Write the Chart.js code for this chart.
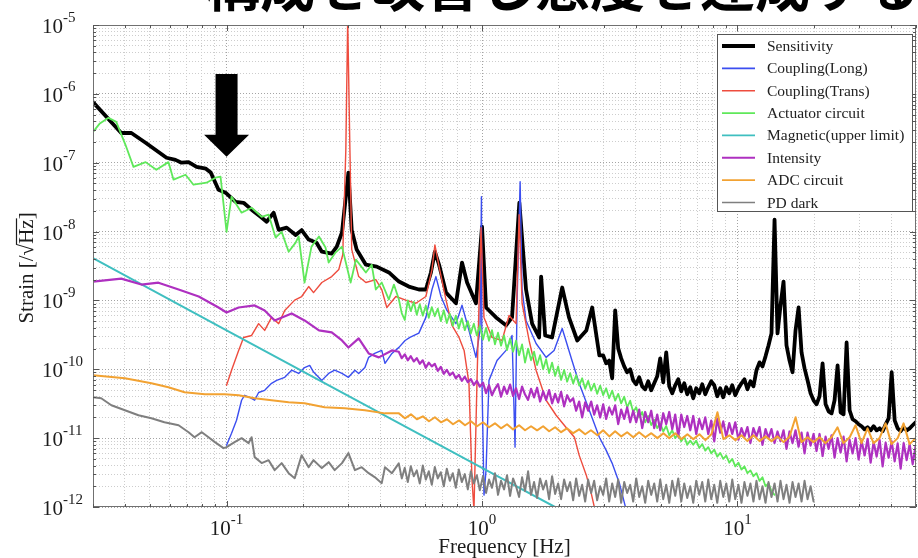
<!DOCTYPE html>
<html><head><meta charset="utf-8">
<script src="https://cdn.jsdelivr.net/npm/chart.js@4.4.1/dist/chart.umd.min.js"></script>
<style>html,body{margin:0;padding:0;background:#fff;}canvas{display:block;}</style>
</head><body>
<canvas id="c" width="918" height="558"></canvas>
<script>
// ---------- data (frequency [Hz], strain [1/sqrt(Hz)]) ----------
const sensLowFreq = [0.03,0.0387,0.0424,0.0482,0.0582,0.0631,0.0666,0.071,0.0763,0.083,0.0867,0.093,0.0991,0.1085,0.1166,0.1253,0.1359,0.1435,0.1529,0.16,0.1719,0.1864,0.1968,0.2096,0.225,0.236,0.258,0.27,0.283,0.3,0.309,0.323,0.351,0.387,0.432,0.473,0.517,0.566,0.603,0.631,0.654,0.679,0.723,0.791,0.835,0.874,0.947,1.0,1.037,1.135,1.242,1.311,1.4,1.487,1.571,1.673,1.704,1.767,1.881,2.06,2.19,2.36,2.56,2.7,2.88];
const sensLowVal = [7.6e-7,2.7e-7,2.7e-7,1.95e-7,1.18e-7,1.1e-7,1.0e-7,1.02e-7,8.7e-8,8.2e-8,7.2e-8,4.05e-8,3.67e-8,2.7e-8,2.62e-8,2.08e-8,1.64e-8,1.39e-8,1.88e-8,1.06e-8,1.14e-8,8.9e-9,1.05e-8,7.65e-9,6.9e-9,5.1e-9,4.8e-9,6.05e-9,9.7e-9,7.2e-8,1.05e-8,5.5e-9,3.3e-9,3.1e-9,2.55e-9,1.88e-9,1.59e-9,1.44e-9,1.44e-9,2.55e-9,5.1e-9,3.3e-9,1.3e-9,9.1e-10,3.55e-9,1.82e-9,9.1e-10,1.18e-8,7.9e-10,5.67e-10,4.34e-10,5.67e-10,2.62e-8,1.44e-9,4.6e-10,2.9e-10,2.22e-9,3.1e-10,2.9e-10,1.54e-9,5.67e-10,2.62e-10,3.67e-10,7.9e-10,1.59e-10];
// sensitivity above 2.9 Hz, sampled on fineFreq from index 68 on
const sensFineVal = [1.59e-10,1.22e-10,1.34e-10,7.4e-11,7.16e-10,2.01e-10,1.44e-10,1.1e-10,9.05e-11,1.0e-10,
6.92e-11,6.06e-11,7.65e-11,5.66e-11,5.12e-11,6.69e-11,4.95e-11,6.26e-11,7.91e-11,1.44e-10,
6.47e-11,1.76e-10,5.66e-11,4.48e-11,5.86e-11,7.16e-11,4.79e-11,6.26e-11,4.34e-11,5.48e-11,
3.79e-11,5.3e-11,4.48e-11,6.06e-11,4.34e-11,5.48e-11,6.69e-11,5.86e-11,4.06e-11,5.3e-11,
3.92e-11,5.48e-11,4.48e-11,5.86e-11,4.19e-11,5.3e-11,6.26e-11,7.16e-11,5.12e-11,6.69e-11,
5.66e-11,9.67e-11,1.26e-10,1.1e-10,1.54e-10,2.22e-10,3.32e-10,1.49e-8,3.32e-10,8.46e-10,
1.88e-9,2.22e-10,1.34e-10,9.05e-11,3.67e-10,7.91e-10,1.76e-10,1.03e-10,6.92e-11,4.48e-11,
3.55e-11,3.1e-11,4.06e-11,1.22e-10,3.1e-11,2.45e-11,2.29e-11,3.55e-11,1.14e-10,2.37e-11,
2.22e-11,2.45e-10,2.54e-11,1.88e-11,1.76e-11,1.59e-11,1.49e-11,1.34e-11,1.44e-11,1.3e-11,
1.49e-11,1.3e-11,1.39e-11,1.26e-11,1.59e-11,1.94e-11,9.05e-11,1.81e-11,1.39e-11,1.26e-11,
1.44e-11,1.3e-11,1.39e-11,1.54e-11,1.7e-11];

const longFreq = [0.1,0.1046,0.1094,0.1145,0.1176,0.1231,0.1288,0.1335,0.141,0.15,0.1571,0.1689,0.1798,0.1915,0.202,0.2116,0.219,0.236,0.251,0.265,0.283,0.3,0.318,0.329,0.348,0.36,0.38,0.405,0.417,0.444,0.473,0.5,0.522,0.566,0.603,0.637,0.66,0.691,0.729,0.791,0.835,0.889,0.947,0.982,0.995,1.0,1.018,1.037,1.065,1.145,1.242,1.311,1.347,1.372,1.41,1.435,1.487,1.628,1.782,1.915,2.06,2.13,2.25,2.4,2.63,2.88,3.06,3.23,3.45,3.67];
const longVal = [7.9e-12,1.18e-11,1.82e-11,3.55e-11,4.19e-11,3.92e-11,3.55e-11,4.6e-11,4.95e-11,6.26e-11,6.9e-11,7.65e-11,9.7e-11,8.7e-11,1.06e-10,1.14e-10,9.1e-11,6.9e-11,8.7e-11,9.7e-11,8.7e-11,7.65e-11,9.7e-11,8.7e-11,1.06e-10,1.49e-10,1.7e-10,1.88e-10,1.22e-10,1.7e-10,2.08e-10,2.62e-10,2.9e-10,3.35e-10,5.67e-10,1.44e-9,2.22e-9,1.14e-9,7.16e-10,4.6e-10,8.5e-10,3.67e-10,1.49e-10,3.67e-10,3.21e-8,6.26e-11,1.49e-12,3.43e-12,6.9e-11,1.34e-10,1.88e-10,3.1e-10,7.4e-12,1e-9,5.3e-8,1.44e-9,5.12e-10,2.37e-10,1.49e-10,1.88e-10,3.92e-10,2.62e-10,1.34e-10,6.26e-11,2.55e-11,1.03e-11,6.69e-12,4.34e-12,2.22e-12,9e-13];

const transFreq = [0.1,0.1046,0.1115,0.1166,0.1253,0.1335,0.141,0.15,0.16,0.1689,0.1848,0.1968,0.2096,0.219,0.236,0.258,0.275,0.285,0.293,0.298,0.304,0.309,0.329,0.351,0.384,0.405,0.424,0.46,0.503,0.551,0.603,0.637,0.654,0.679,0.723,0.763,0.813,0.851,0.889,0.914,0.93,0.956,0.991,1.018,1.094,1.198,1.276,1.359,1.397,1.435,1.529,1.628,1.782,1.95,2.13,2.3,2.4,2.56,2.67,2.77];
const transVal = [5.86e-11,9.7e-11,1.88e-10,2.9e-10,3.1e-10,4.6e-10,3.67e-10,5.67e-10,4.6e-10,7.16e-10,1.01e-9,1.14e-9,1.59e-9,1.3e-9,1.82e-9,2.22e-9,2.81e-9,4.6e-9,1.54e-7,1.2e-5,1.54e-7,5.5e-9,2.22e-9,1.82e-9,2.01e-9,1.44e-9,7.9e-10,1.14e-9,1.01e-9,9.1e-10,1.14e-9,2.81e-9,6.4e-9,3.1e-9,1.01e-9,4.34e-10,2.9e-10,1.88e-10,6.26e-11,2.45e-12,9e-13,6.9e-11,1.14e-8,5.67e-10,2.9e-10,2.62e-10,6.05e-10,4.6e-10,1.76e-8,9.1e-10,2.62e-10,9.7e-11,3.55e-11,2.15e-11,1.44e-11,1.03e-11,5.67e-12,2.9e-12,1.64e-12,9e-13];

const magFreq = [0.03,0.1,1.0,1.93];
const magVal = [4.1e-9,3.67e-10,3.7e-12,1.0e-12];

// fine frequency grid of the dense-noise region (0.47 - 50 Hz)
const fineFreq = [0.4722,0.4852,0.4985,0.5122,0.5262,0.5407,0.5555,0.5707,0.5864,0.6025,0.619,0.636,0.6534,0.6713,0.6897,0.7087,0.7281,0.7481,0.7686,0.7897,0.8113,0.8336,0.8564,0.8799,0.904,0.9288,0.9543,0.9804,
1.009,1.037,1.065,1.094,1.124,1.155,1.187,1.22,1.253,1.288,1.323,1.359,1.397,1.435,1.474,1.515,1.556,1.599,1.643,1.688,1.735,1.782,1.831,1.881,1.933,1.986,2.04,2.096,2.154,2.213,2.274,2.336,2.4,2.466,2.534,2.603,2.675,2.748,2.823,2.901,2.981,3.062,3.146,3.233,3.322,3.413,3.506,3.603,3.701,3.803,3.907,4.015,4.125,4.238,4.354,4.473,4.596,4.722,4.852,4.985,5.122,5.262,5.407,5.555,5.707,5.864,6.025,6.19,6.36,6.534,6.713,6.897,7.087,7.281,7.481,7.686,7.897,8.113,8.336,8.564,8.799,9.04,9.288,9.543,9.804,
10.09,10.37,10.65,10.94,11.24,11.55,11.87,12.2,12.53,12.88,13.23,13.59,13.97,14.35,14.74,15.15,15.56,15.99,16.43,16.88,17.35,17.82,18.31,18.81,19.33,19.86,20.4,20.96,21.54,22.13,22.74,23.36,24.0,24.66,25.34,26.03,26.75,27.48,28.23,29.01,29.81,30.62,31.46,32.33,33.22,34.13,35.06,36.03,37.01,38.03,39.07,40.15,41.25,42.38,43.54,44.73,45.96,47.22,48.52,49.85];
// coarser grid used by the ADC trace
const bandFreq = [0.473,0.499,0.527,0.556,0.587,0.62,0.654,0.691,0.729,0.77,0.813,0.858,0.905,0.956,1.009,1.065,1.124,1.187,1.253,1.323,1.397,1.474,1.556,1.643,1.735,1.831,1.933,2.04,2.15,2.275,2.4,2.535,2.67,2.83,2.98,3.15,3.32,3.51,3.7,3.91,4.12,4.36,4.6,4.86,5.13,5.41,5.71,6.03,6.37,6.72,7.1,7.49,7.91,8.35,8.81,9.3,9.82,10.37,10.94,11.55,12.2,12.88,13.6,14.35,15.15,16.0,16.89,17.8,18.81,19.86,20.96,22.1,23.35,24.65,26.0,27.5,29.0,30.6,32.3,34.1,36.0,38.0,40.1,42.4,44.7,47.2,49.8];

const actLowFreq = [0.03,0.0318,0.0345,0.037,0.0402,0.0432,0.0482,0.0531,0.0592,0.062,0.0691,0.0742,0.0835,0.0905,0.0947,0.1,0.1046,0.1145,0.1253,0.1372,0.1461,0.1556,0.1643,0.175,0.1864,0.1915,0.202,0.215,0.23,0.244,0.251,0.267,0.283,0.306,0.321,0.351,0.37,0.384,0.405,0.432,0.452];
const actLowVal = [2.81e-7,3.67e-7,4.48e-7,3.92e-7,1.82e-7,8.7e-8,1.02e-7,7.9e-8,1.02e-7,5.67e-8,6.69e-8,4.79e-8,5.12e-8,6.05e-8,6.26e-8,9.9e-9,3.21e-8,1.88e-8,2.22e-8,1.64e-8,1.76e-8,8.2e-9,9.9e-9,5.1e-9,6.9e-9,8.5e-9,1.82e-9,6.05e-9,8.5e-9,5.86e-9,3.55e-9,4.95e-9,6.05e-9,1.82e-9,3.92e-9,2.55e-9,3.3e-9,1.44e-9,1.82e-9,1.03e-9,1.7e-9];
const actFineVal = [1.05e-9,6.5e-10,5.2e-10,1.0e-9,7.0e-10,9.5e-10,6.2e-10,8.8e-10,6.0e-10,8.4e-10,5.6e-10,8.0e-10,5.9e-10,7.6e-10,5.0e-10,7.2e-10,4.7e-10,6.4e-10,4.3e-10,6.0e-10,3.9e-10,5.5e-10,3.7e-10,5.0e-10,3.3e-10,4.6e-10,3.1e-10,4.3e-10,
2.7e-10,4.0e-10,2.6e-10,3.7e-10,2.3e-10,3.4e-10,2.2e-10,3.1e-10,1.9e-10,2.8e-10,
1.8e-10,2.6e-10,1.6e-10,2.3e-10,1.25e-10,2.0e-10,1.35e-10,1.8e-10,1.15e-10,1.6e-10,
1.0e-10,1.4e-10,8.8e-11,1.25e-10,8.0e-11,1.1e-10,7.0e-11,9.8e-11,6.6e-11,8.8e-11,
6.2e-11,8.2e-11,5.8e-11,7.4e-11,5.2e-11,6.8e-11,4.9e-11,6.2e-11,4.4e-11,5.8e-11,
4.2e-11,5.3e-11,3.8e-11,4.9e-11,3.5e-11,4.4e-11,3.2e-11,4.0e-11,2.8e-11,3.5e-11,
2.4e-11,2.8e-11,2.0e-11,2.4e-11,1.7e-11,2.1e-11,1.55e-11,1.85e-11,1.4e-11,1.65e-11,
1.25e-11,1.5e-11,1.1e-11,1.3e-11,1.0e-11,1.15e-11,9.0e-12,1.05e-11,8.0e-12,9.2e-12,
8.0e-12,9.2e-12,7.2e-12,8.2e-12,6.6e-12,7.4e-12,6.0e-12,6.8e-12,5.4e-12,6.1e-12,
5.0e-12,5.6e-12,4.4e-12,5.0e-12,3.9e-12,4.4e-12,3.5e-12,3.9e-12,3.1e-12,3.4e-12,
2.8e-12,3.1e-12,2.4e-12,2.7e-12,2.0e-12,2.2e-12,1.7e-12,1.5e-12];

const intLowFreq = [0.03,0.0387,0.0464,0.0541,0.0649,0.0778,0.093,0.1,0.1115,0.1288,0.141,0.1543,0.1798,0.202,0.23,0.258,0.283,0.3,0.329,0.36,0.3945,0.444];
const intLowVal = [1.88e-9,2.07e-9,1.7e-9,1.81e-9,1.44e-9,1.14e-9,7.9e-10,6.69e-10,7.9e-10,8.46e-10,7.16e-10,5.12e-10,6.47e-10,5.12e-10,3.67e-10,3.43e-10,2.62e-10,2.07e-10,2.81e-10,1.7e-10,1.49e-10,1.88e-10];
const intFineVal = [1.8e-10,1.45e-10,1.65e-10,1.35e-10,1.55e-10,1.3e-10,1.45e-10,1.2e-10,1.35e-10,1.05e-10,1.25e-10,1.1e-10,1.2e-10,9.5e-11,1.08e-10,8.6e-11,9.8e-11,8.2e-11,9.0e-11,7.4e-11,8.3e-11,6.8e-11,7.8e-11,6.5e-11,7.2e-11,5.9e-11,6.8e-11,5.6e-11,
6.4e-11,4.5e-11,5.9e-11,4.2e-11,5.2e-11,6.1e-11,4.0e-11,5.6e-11,4.4e-11,6.0e-11,
4.1e-11,5.3e-11,3.7e-11,5.6e-11,4.3e-11,3.6e-11,5.2e-11,3.9e-11,5.4e-11,3.4e-11,
4.8e-11,3.6e-11,5.0e-11,3.2e-11,4.4e-11,3.3e-11,4.7e-11,2.9e-11,4.2e-11,3.4e-11,
3.8e-11,2.5e-11,3.4e-11,2.0e-11,3.3e-11,2.5e-11,3.4e-11,2.2e-11,3.0e-11,2.0e-11,
3.1e-11,1.9e-11,2.8e-11,2.2e-11,3.0e-11,1.6e-11,2.6e-11,1.9e-11,2.8e-11,1.7e-11,
2.5e-11,1.7e-11,2.6e-11,1.4e-11,2.4e-11,1.7e-11,2.5e-11,1.4e-11,2.2e-11,1.3e-11,
2.3e-11,1.6e-11,2.4e-11,1.35e-11,2.2e-11,1.05e-11,2.2e-11,1.45e-11,2.1e-11,1.3e-11,
2.1e-11,1.15e-11,1.9e-11,1.35e-11,2.0e-11,1.15e-11,1.8e-11,9.0e-12,1.9e-11,1.2e-11,
1.75e-11,1.05e-11,1.65e-11,1.15e-11,1.7e-11,9.5e-12,1.4e-11,1.05e-11,1.45e-11,8.5e-12,
1.4e-11,1.05e-11,1.45e-11,8.0e-12,1.35e-11,1.0e-11,1.35e-11,8.5e-12,1.25e-11,9.0e-12,
1.3e-11,7.0e-12,1.25e-11,8.5e-12,1.3e-11,7.5e-12,1.2e-11,6.0e-12,1.2e-11,7.8e-12,
1.15e-11,6.5e-12,1.15e-11,5.5e-12,1.05e-11,7.0e-12,1.1e-11,5.2e-12,1.0e-11,6.2e-12,
1.05e-11,4.6e-12,9.5e-12,6.0e-12,1.0e-11,4.9e-12,9.2e-12,5.6e-12,9.8e-12,4.4e-12,
8.8e-12,5.4e-12,9.4e-12,3.9e-12,8.6e-12,5.2e-12,9.0e-12,4.6e-12,8.4e-12,3.6e-12,
8.5e-12,4.8e-12,8.2e-12,4.2e-12,7.8e-12];

const adcLowFreq = [0.03,0.04,0.0508,0.0592,0.0685,0.0822,0.0982,0.1115,0.1288,0.15,0.175,0.202,0.242,0.29,0.348,0.417];
const adcLowVal = [8.2e-11,7.4e-11,6.26e-11,5.48e-11,4.63e-11,4.34e-11,4.34e-11,4.19e-11,3.79e-11,3.55e-11,3.32e-11,3.21e-11,2.81e-11,2.72e-11,2.54e-11,2.29e-11];
const adcBandVal = [2.29e-11,1.94e-11,2.22e-11,1.88e-11,2.07e-11,1.76e-11,2.01e-11,1.7e-11,1.88e-11,1.59e-11,1.81e-11,1.54e-11,1.76e-11,1.49e-11,1.7e-11,1.44e-11,1.64e-11,1.39e-11,1.59e-11,1.34e-11,1.54e-11,1.3e-11,1.49e-11,1.3e-11,1.49e-11,1.26e-11,1.44e-11,1.22e-11,1.39e-11,1.18e-11,1.34e-11,1.14e-11,1.3e-11,1.1e-11,1.3e-11,1.06e-11,1.26e-11,1.06e-11,1.22e-11,1.03e-11,1.22e-11,1.03e-11,1.18e-11,1.0e-11,1.18e-11,1.0e-11,1.18e-11,9.67e-12,1.14e-11,9.67e-12,1.14e-11,9.35e-12,1.14e-11,2.37e-11,9.67e-12,1.1e-11,9.35e-12,1.1e-11,9.05e-12,1.1e-11,9.05e-12,1.06e-11,9.05e-12,1.06e-11,8.75e-12,1.06e-11,2.01e-11,8.75e-12,1.03e-11,8.75e-12,1.03e-11,8.46e-12,1.03e-11,1.44e-11,8.46e-12,1.03e-11,1.54e-11,8.46e-12,1.39e-11,8.46e-12,1.0e-11,1.64e-11,8.18e-12,1.0e-11,1.64e-11,8.18e-12,1.0e-11];

const pdLowFreq = [0.03,0.0323,0.0354,0.04,0.0452,0.0508,0.0571,0.0649,0.071,0.0749,0.08,0.085,0.09,0.0973,0.1,0.1075,0.1145,0.122,0.1253,0.1288,0.1372,0.1461,0.1543,0.1643,0.175,0.1848,0.1968,0.2096,0.219,0.236,0.251,0.265,0.283,0.3,0.318,0.338,0.36,0.38,0.405,0.417,0.444];
const pdLowVal = [3.92e-11,3.79e-11,3.0e-11,2.54e-11,2.15e-11,1.94e-11,1.7e-11,1.54e-11,1.22e-11,1.03e-11,1.22e-11,1.03e-11,8.75e-12,7.16e-12,7.4e-12,8.75e-12,1.0e-11,8.46e-12,1.03e-11,5.3e-12,4.34e-12,4.79e-12,3.43e-12,4.34e-12,3.1e-12,2.62e-12,5.66e-12,3.79e-12,4.79e-12,3.67e-12,4.48e-12,3.43e-12,4.34e-12,6.06e-12,3.43e-12,3.79e-12,3.1e-12,2.72e-12,2.22e-12,3.79e-12,3.1e-12];
const pdFineVal = [4.3e-12,2.6e-12,3.7e-12,2.3e-12,3.9e-12,2.8e-12,3.4e-12,2.2e-12,4.0e-12,2.5e-12,3.3e-12,2.1e-12,3.8e-12,2.6e-12,3.2e-12,2.0e-12,3.6e-12,2.4e-12,3.1e-12,1.9e-12,3.5e-12,2.3e-12,3.0e-12,1.8e-12,3.3e-12,2.2e-12,2.9e-12,1.75e-12,
2.8e-12,1.6e-12,2.5e-12,1.9e-12,3.1e-12,1.5e-12,2.4e-12,1.8e-12,2.9e-12,1.45e-12,
2.6e-12,2.0e-12,1.4e-12,2.7e-12,1.7e-12,3.3e-12,1.5e-12,2.3e-12,1.35e-12,2.6e-12,
1.8e-12,2.4e-12,1.3e-12,2.8e-12,1.55e-12,2.2e-12,1.3e-12,2.5e-12,1.7e-12,2.3e-12,
1.25e-12,2.6e-12,1.45e-12,2.1e-12,1.2e-12,2.5e-12,1.6e-12,2.4e-12,1.25e-12,2.0e-12,
1.5e-12,2.6e-12,1.2e-12,2.2e-12,1.4e-12,2.5e-12,1.15e-12,2.3e-12,1.6e-12,2.1e-12,
1.2e-12,2.6e-12,1.4e-12,2.0e-12,1.15e-12,2.4e-12,1.5e-12,2.2e-12,1.2e-12,2.5e-12,
1.3e-12,2.1e-12,1.15e-12,2.4e-12,1.45e-12,2.6e-12,1.2e-12,2.2e-12,1.35e-12,2.0e-12,
1.15e-12,2.4e-12,1.5e-12,2.3e-12,1.2e-12,2.5e-12,1.3e-12,2.1e-12,1.15e-12,2.4e-12,
1.4e-12,2.2e-12,1.2e-12,2.5e-12,1.3e-12,2.1e-12,1.15e-12,2.3e-12,1.45e-12,2.2e-12,
1.2e-12,2.4e-12,1.3e-12,2.0e-12,1.15e-12,2.3e-12,1.4e-12,2.2e-12,1.2e-12,2.4e-12,
1.3e-12,2.1e-12,1.15e-12,2.3e-12,1.4e-12,2.2e-12,1.2e-12,2.4e-12,1.3e-12,2.0e-12,1.2e-12];

// axes / labels / annotation
const xGrid = [0.03,0.04,0.05,0.06,0.07,0.08,0.09,0.1,0.2,0.3,0.4,0.5,0.6,0.7,0.8,0.9,1,2,3,4,5,6,7,8,9,10,20,30,40,50];
const xMajor = [0.1,1,10];
const xLabelExps = [-1,0,1];
const yLabelExps = [-12,-11,-10,-9,-8,-7,-6,-5];
const yMinorMult = [2,3,4,5,6,7,8,9];
const titleText = '構成を改善し感度を達成する';
const xTitle = 'Frequency [Hz]';
const arrowMark = {freq: 0.1, tip: 1.22e-7, top: 1.94e-6};

// ---------- build ----------
const pts = (f, v) => f.map((x, i) => ({x: x, y: v[i]}));
const yGrid = [];
yLabelExps.forEach(e => {
  yGrid.push({value: Math.pow(10, e), major: true});
  if (e < -5) yMinorMult.forEach(m => yGrid.push({value: m * Math.pow(10, e), major: false}));
});
const xGridTicks = xGrid.map(v => ({value: v, major: xMajor.includes(v)}));
const sensFineStart = fineFreq.length - sensFineVal.length;

const series = [
  {label: 'Sensitivity', data: pts(sensLowFreq.concat(fineFreq.slice(sensFineStart)), sensLowVal.concat(sensFineVal)), color: '#000000', w: 3.8, lw: 4},
  {label: 'Coupling(Long)', data: pts(longFreq, longVal), color: '#3b4ef0', w: 1.4, lw: 1.6},
  {label: 'Coupling(Trans)', data: pts(transFreq, transVal), color: '#ee4c3e', w: 1.4, lw: 1.6},
  {label: 'Actuator circuit', data: pts(actLowFreq.concat(fineFreq.slice(0, actFineVal.length)), actLowVal.concat(actFineVal)), color: '#5fe85a', w: 1.8, lw: 1.8},
  {label: 'Magnetic(upper limit)', data: pts(magFreq, magVal), color: '#3fbfc0', w: 2, lw: 1.8},
  {label: 'Intensity', data: pts(intLowFreq.concat(fineFreq), intLowVal.concat(intFineVal)), color: '#ae30c0', w: 2.2, lw: 2.2},
  {label: 'ADC circuit', data: pts(adcLowFreq.concat(bandFreq), adcLowVal.concat(adcBandVal)), color: '#f2a232', w: 2, lw: 1.8},
  {label: 'PD dark', data: pts(pdLowFreq.concat(fineFreq.slice(0, pdFineVal.length)), pdLowVal.concat(pdFineVal)), color: '#7f7f7f', w: 2, lw: 1.6}
];

const FONT = '"Liberation Serif", "Times New Roman", serif';

function drawPow(ctx, exp, x, baseY, centered) {
  ctx.font = '21px ' + FONT;
  const wb = ctx.measureText('10').width;
  ctx.font = '15px ' + FONT;
  const sup = String(exp);
  const ws = ctx.measureText(sup).width;
  const x0 = centered ? x - (wb + ws) / 2 : x;
  ctx.textAlign = 'left';
  ctx.textBaseline = 'alphabetic';
  ctx.font = '21px ' + FONT;
  ctx.fillText('10', x0, baseY);
  ctx.font = '15px ' + FONT;
  ctx.fillText(sup, x0 + wb, baseY - 11);
}

const decor = {
  id: 'decor',
  beforeDraw(chart) {
    const c = chart.ctx;
    c.save(); c.fillStyle = '#fff'; c.fillRect(0, 0, chart.width, chart.height); c.restore();
  },
  afterDraw(chart) {
    const c = chart.ctx, xs = chart.scales.x, ys = chart.scales.y, a = chart.chartArea;
    c.save();
    c.strokeStyle = '#707070'; c.lineWidth = 1;
    c.strokeRect(a.left + 0.5, a.top + 0.5, a.right - a.left - 1, a.bottom - a.top - 1);
    c.strokeStyle = '#555';
    c.beginPath();
    xGridTicks.forEach(t => {
      const p = Math.round(xs.getPixelForValue(t.value)) + 0.5, L = t.major ? 6 : 3;
      c.moveTo(p, a.bottom); c.lineTo(p, a.bottom - L);
      c.moveTo(p, a.top); c.lineTo(p, a.top + L);
    });
    yGrid.forEach(t => {
      const p = Math.round(ys.getPixelForValue(t.value)) + 0.5, L = t.major ? 6 : 3;
      c.moveTo(a.left, p); c.lineTo(a.left + L, p);
      c.moveTo(a.right, p); c.lineTo(a.right - L, p);
    });
    c.stroke();
    c.fillStyle = '#1c1c1c';
    yLabelExps.forEach(e => {
      const p = ys.getPixelForValue(Math.pow(10, e));
      drawPow(c, e, 42, p + 8, false);
    });
    xLabelExps.forEach(e => {
      const p = xs.getPixelForValue(Math.pow(10, e));
      drawPow(c, e, p, a.bottom + 28, true);
    });
    c.font = '21px ' + FONT; c.textAlign = 'center'; c.textBaseline = 'alphabetic';
    c.fillText(xTitle, (a.left + a.right) / 2, 553);
    c.save();
    c.translate(33, 268); c.rotate(-Math.PI / 2);
    c.font = '21px ' + FONT; c.textAlign = 'left';
    const p1 = 'Strain [/', p2 = '\u221A', p3 = 'Hz', p4 = ']';
    const w1 = c.measureText(p1).width, w2 = c.measureText(p2).width, w3 = c.measureText(p3).width, w4 = c.measureText(p4).width;
    const x0 = -(w1 + w2 + w3 + w4) / 2;
    c.fillText(p1, x0, 0);
    c.fillText(p2, x0 + w1, 0);
    c.fillText(p3, x0 + w1 + w2, 0);
    c.fillText(p4, x0 + w1 + w2 + w3, 0);
    c.strokeStyle = '#1c1c1c'; c.lineWidth = 1.2;
    c.beginPath(); c.moveTo(x0 + w1 + w2 - 1, -16.5); c.lineTo(x0 + w1 + w2 + w3 + 1, -16.5); c.stroke();
    c.restore();
    // legend
    const lx = 717, ly = 34, lw = 195, lh = 177;
    c.fillStyle = '#fff'; c.fillRect(lx, ly, lw, lh);
    c.strokeStyle = '#555'; c.lineWidth = 1; c.strokeRect(lx + 0.5, ly + 0.5, lw, lh);
    c.font = '15.5px ' + FONT; c.textAlign = 'left'; c.textBaseline = 'middle';
    series.forEach((s, i) => {
      const y = 46 + i * 22.35;
      c.strokeStyle = s.color; c.lineWidth = s.lw;
      c.beginPath(); c.moveTo(722, y); c.lineTo(755, y); c.stroke();
      c.fillStyle = '#222'; c.fillText(s.label, 767, y + 1);
    });
    // arrow annotation
    const ax = xs.getPixelForValue(arrowMark.freq);
    const tipY = ys.getPixelForValue(arrowMark.tip), topY = ys.getPixelForValue(arrowMark.top);
    const headL = 22, headW = 22.5, shaftW = 11;
    c.fillStyle = '#000';
    c.beginPath();
    c.moveTo(ax - shaftW, topY); c.lineTo(ax + shaftW, topY);
    c.lineTo(ax + shaftW, tipY - headL); c.lineTo(ax + headW, tipY - headL);
    c.lineTo(ax, tipY); c.lineTo(ax - headW, tipY - headL);
    c.lineTo(ax - shaftW, tipY - headL); c.closePath(); c.fill();
    // cut-off slide title
    c.fillStyle = '#000';
    c.font = 'bold 55px "Noto Sans CJK JP", sans-serif'; c.textAlign = 'left'; c.textBaseline = 'alphabetic';
    c.fillText(titleText, 205, 6);
    c.restore();
  }
};

const gridColor = ctx => (ctx.tick && ctx.tick.major) ? '#a4a4a4' : '#cdcdcd';
const scaleCommon = {
  type: 'logarithmic',
  ticks: {display: false},
  grid: {drawTicks: false, color: gridColor, lineWidth: 1},
  border: {display: false, dash: [1, 2]}
};

new Chart(document.getElementById('c').getContext('2d'), {
  type: 'line',
  data: {
    datasets: series.map((s, i) => ({
      label: s.label, data: s.data, borderColor: s.color, backgroundColor: s.color,
      borderWidth: s.w, pointRadius: 0, tension: 0, fill: false, clip: 0,
      borderJoinStyle: 'round', borderCapStyle: 'round', order: series.length - i
    }))
  },
  options: {
    responsive: false, animation: false, devicePixelRatio: 1,
    layout: {padding: {left: 93, top: 25, right: 2, bottom: 51}},
    plugins: {legend: {display: false}, tooltip: {enabled: false}, title: {display: false}},
    scales: {
      x: Object.assign({}, scaleCommon, {position: 'bottom', min: 0.03, max: 50,
        afterBuildTicks: s => { s.ticks = xGridTicks.map(t => ({value: t.value, major: t.major})); },
        afterFit: s => { s.height = 0; }}),
      y: Object.assign({}, scaleCommon, {position: 'left', min: 1e-12, max: 1e-5,
        afterBuildTicks: s => { s.ticks = yGrid.map(t => ({value: t.value, major: t.major})); },
        afterFit: s => { s.width = 0; }})
    }
  },
  plugins: [decor]
});
</script>
</body></html>
